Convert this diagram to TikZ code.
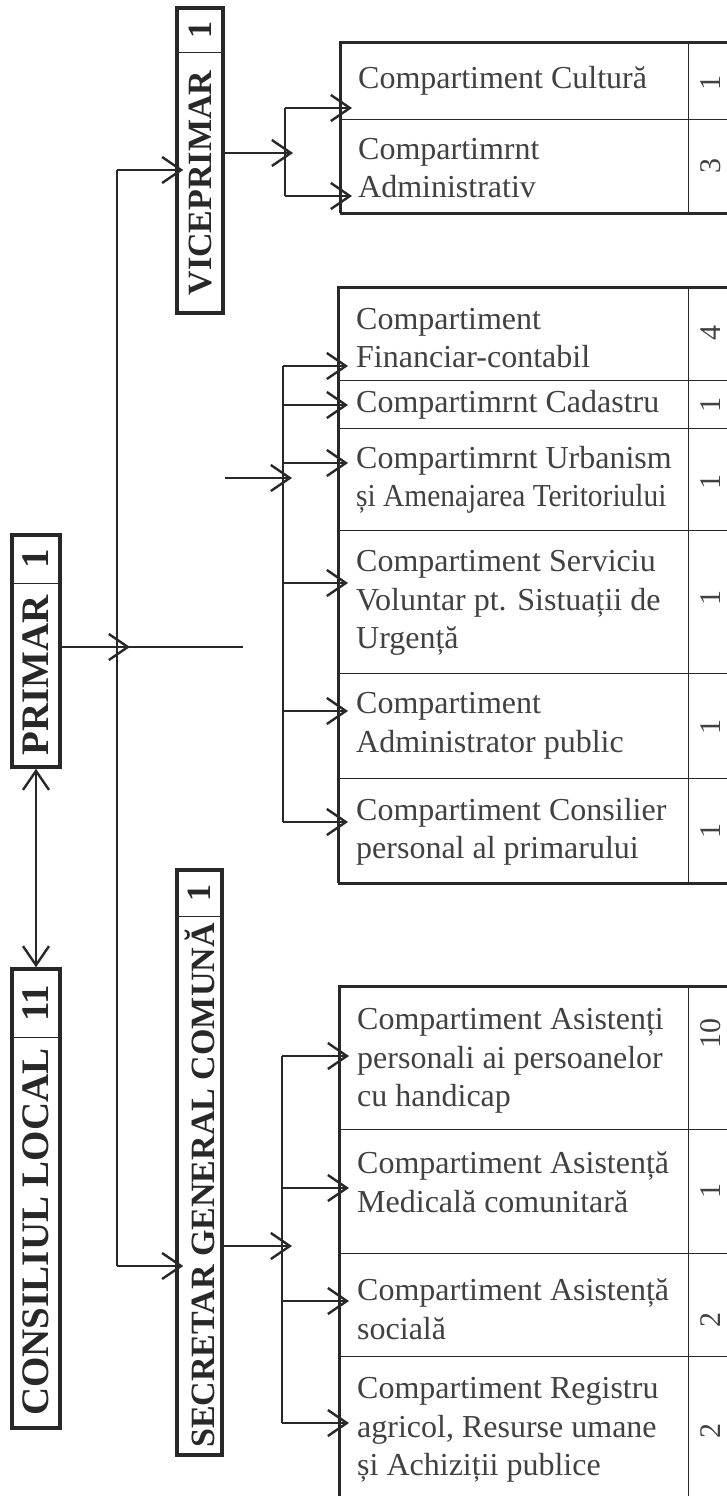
\documentclass[tikz,border=0pt]{standalone}
\usepackage{fontspec}
\usepackage{graphicx}
\setmainfont{Liberation Serif}
\usetikzlibrary{arrows.meta,fit}
\definecolor{ink}{RGB}{40,40,40}
\definecolor{txt}{RGB}{65,65,65}
\tikzset{
  outerbox/.style={draw=ink, line width=3pt},
  cellbox/.style={draw=ink, line width=1pt, inner sep=0pt, outer sep=0pt},
  rowtext/.style={font=\fontsize{32}{38.5}\selectfont, align=left, inner sep=0pt, text=txt, anchor=west},
  numtext/.style={font=\fontsize{30}{30}\selectfont, inner sep=0pt, text=txt, rotate=90},
  lbox/.style={draw=ink, line width=3.5pt, inner sep=0pt},
  ltext/.style={font=\bfseries\fontsize{34}{34}\selectfont, inner sep=0pt, text=ink, rotate=90},
  lbig/.style={font=\bfseries\fontsize{39}{39}\selectfont, inner sep=0pt, text=ink, rotate=90},
  divider/.style={draw=ink, line width=1pt},
  barb/.tip={Straight Barb[length=19pt,width=26pt,line width=2.4pt]},
  arr/.style={draw=ink, line width=2.6pt, -barb},
  arrtwo/.style={draw=ink, line width=2.6pt, barb-barb},
  bus/.style={draw=ink, line width=1.2pt}
}
% #1 name, #2 left x, #3 ytop, #4 ybot, #5 text, #6 number, #7 text y, #8 number y
\newcommand\tabrow[8]{%
  \node[cellbox, fit={(#2,#3) (688,#4)}] (#1) {};
  \node[cellbox, fit={(688,#3) (733,#4)}] (#1n) {};
  \node[rowtext] (#1t) at (#2+18,#7) {#5};
  \node[numtext] (#1v) at (710.5,#8) {#6};
}
\newcommand\squeeze[2]{\scalebox{#1}[1]{#2}}
\begin{document}
\begin{tikzpicture}[x=1pt,y=-1pt]
\useasboundingbox (0,0) rectangle (726,1496);
\fill[white] (0,0) rectangle (726,1496);

% ---------- left boxes ----------
\node[lbox, minimum width=46pt, minimum height=305pt] (vp) at (200,160.5) {};
\draw[divider] (177,53) -- (223,53);
\node[ltext] (vpn) at (200,30.5) {1};
\node[ltext] (vpt) at (200,183) {VICEPRIMAR};

\node[lbox, minimum width=48pt, minimum height=232pt] (pr) at (36,651) {};
\draw[divider] (12,583) -- (60,583);
\node[lbig] (prn) at (36,559) {1};
\node[lbig] (prt) at (36,675) {PRIMAR};

\node[lbox, minimum width=48pt, minimum height=459pt] (cl) at (36,1198.5) {};
\draw[divider] (12,1037) -- (60,1037);
\node[lbig] (cln) at (36,1003) {11};
\node[lbig] (clt) at (36,1232) {CONSILIUL LOCAL};

\node[lbox, minimum width=45pt, minimum height=585pt] (sg) at (199.5,1162.5) {};
\draw[divider] (177,916) -- (222,916);
\node[ltext] (sgn) at (199.5,893) {1};
\node[ltext] (sgt) at (199.5,1185.5) {SECRETAR GENERAL COMUNĂ};

% ---------- top table ----------
\tabrow{ta}{340}{43}{119}{Compartiment Cultură}{1}{81}{83}
\tabrow{tb}{340}{119}{213}{Compartimrnt\\Administrativ}{3}{168}{166}
\draw[outerbox] (340,213) -- (340,43) -- (745,43);
\draw[outerbox] (340,213) -- (745,213);

% ---------- middle table ----------
\tabrow{ma}{338}{287}{380}{Compartiment\\Financiar-contabil}{4}{338}{333}
\tabrow{mb}{338}{380}{428}{Compartimrnt Cadastru}{1}{405}{405}
\tabrow{mc}{338}{428}{530}{Compartimrnt Urbanism\\\squeeze{0.92}{și Amenajarea Teritoriului}}{1}{480}{482}
\tabrow{md}{338}{530}{673}{Compartiment Serviciu\\Voluntar pt. Sistuații de\\Urgență}{1}{603}{598}
\tabrow{me}{338}{673}{778}{Compartiment\\Administrator public}{1}{726}{727}
\tabrow{mf}{338}{778}{883}{Compartiment Consilier\\personal al primarului}{1}{832}{831}
\draw[outerbox] (338,883) -- (338,287) -- (745,287);
\draw[outerbox] (338,883) -- (745,883);

% ---------- bottom table ----------
\tabrow{ba}{339}{986}{1129}{Compartiment Asistenți\\personali ai persoanelor\\cu handicap}{10}{1061}{1033}
\tabrow{bb}{339}{1129}{1253}{Compartiment Asistență\\Medicală comunitară}{1}{1182}{1191}
\tabrow{bc}{339}{1253}{1356}{Compartiment Asistență\\socială}{2}{1309}{1320}
\tabrow{bd}{339}{1356}{1520}{Compartiment Registru\\agricol, Resurse umane\\și Achiziții publice}{2}{1430}{1431}
\draw[outerbox] (339,1520) -- (339,986) -- (745,986);

% ---------- connectors ----------
% council <-> mayor
\draw[arrtwo] (pr.south) -- (cl.north);

% main bus from mayor
\coordinate (busTop) at (117,170);
\coordinate (busBot) at (117,1266);
\draw[bus] (busTop) -- (busBot);
\draw[arr] (busTop) -- ([xshift=8pt]vp.west |- busTop);
\draw[arr] (busBot) -- ([xshift=8pt]sg.west |- busBot);
\coordinate (prTip) at (130,647);
\coordinate (prEnd) at (243,647);
\draw[arr] (pr.east |- prTip) -- (prTip);
\draw[bus] (117,647) -- (prEnd);

% vice-mayor bus
\coordinate (vbA) at (285,108);
\coordinate (vbB) at (285,196);
\draw[bus] (vbA) -- (vbB);
\draw[arr] (vp.east |- 0,153) -- (293,153);
\draw[arr] (vbA) -- ([xshift=12pt]ta.west |- vbA);
\draw[arr] (vbB) -- ([xshift=12pt]tb.west |- vbB);

% mayor departments bus
\coordinate (mbA) at (283,366);
\coordinate (mbF) at (283,822);
\draw[bus] (mbA) -- (mbF);
\coordinate (mIn) at (225,478);
\draw[arr] (mIn) -- (292,478);
\draw[arr] (mbA) -- ([xshift=10pt]ma.west |- mbA);
\draw[arr] (283,405) -- ([xshift=10pt]mb.west |- 0,405);
\draw[arr] (283,463) -- ([xshift=10pt]mc.west |- 0,463);
\draw[arr] (283,583) -- ([xshift=10pt]md.west |- 0,583);
\draw[arr] (283,711) -- ([xshift=10pt]me.west |- 0,711);
\draw[arr] (mbF) -- ([xshift=10pt]mf.west |- mbF);

% secretary bus
\coordinate (sbA) at (282,1056);
\coordinate (sbD) at (282,1423);
\draw[bus] (sbA) -- (sbD);
\draw[arr] (sg.east |- 0,1246) -- (292,1246);
\draw[arr] (sbA) -- ([xshift=10pt]ba.west |- sbA);
\draw[arr] (282,1188) -- ([xshift=10pt]bb.west |- 0,1188);
\draw[arr] (282,1301) -- ([xshift=10pt]bc.west |- 0,1301);
\draw[arr] (sbD) -- ([xshift=10pt]bd.west |- sbD);
\end{tikzpicture}
\end{document}
